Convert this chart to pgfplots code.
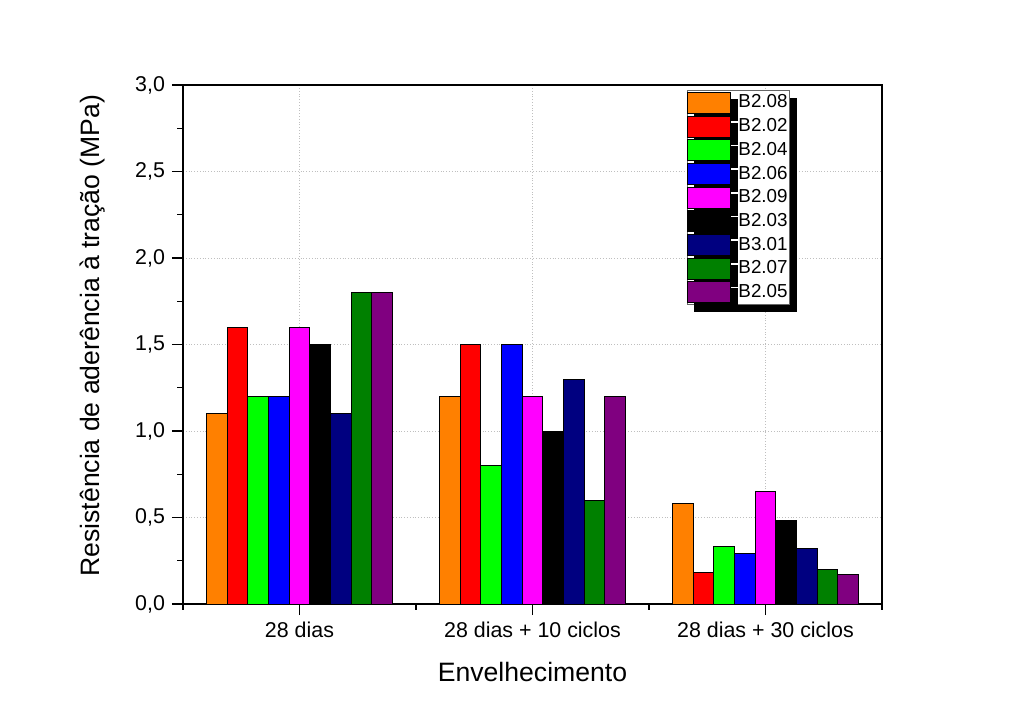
\documentclass[border=0pt]{standalone}
\usepackage{pgfplots}
\usepackage{pgfplotstable}
\pgfplotsset{compat=1.18}
\usepackage{fontspec}
\setmainfont{Liberation Sans}
\usetikzlibrary{shadows}
\definecolor{corange}{RGB}{255,128,0}
\definecolor{cred}{RGB}{255,0,0}
\definecolor{cgreen}{RGB}{0,255,0}
\definecolor{cblue}{RGB}{0,0,255}
\definecolor{cmagenta}{RGB}{255,0,255}
\definecolor{cblack}{RGB}{0,0,0}
\definecolor{cnavy}{RGB}{0,0,128}
\definecolor{cdkgreen}{RGB}{0,128,0}
\definecolor{cpurple}{RGB}{128,0,128}
\pgfplotstableread{
x  a    b    c    d    e    f    g    h    i
0  1.10 1.60 1.20 1.20 1.60 1.50 1.10 1.80 1.80
1  1.20 1.50 0.80 1.50 1.20 1.00 1.30 0.60 1.20
2  0.58 0.18 0.33 0.29 0.65 0.48 0.32 0.20 0.17
}\datatable
\begin{document}
\begin{tikzpicture}
\begin{axis}[
  at={(0,0)}, anchor=south west,
  scale only axis,
  width=349.5pt, height=259.5pt,
  xmin=-0.5, xmax=2.5,
  ymin=0, ymax=3,
  ybar=0pt,
  bar width=10.35pt,
  xtick={0,1,2},
  xticklabels={28 dias, 28 dias + 10 ciclos, 28 dias + 30 ciclos},
  minor xtick={-0.5,0.5,1.5,2.5},
  ytick={0,0.5,1,1.5,2,2.5,3},
  minor ytick={0.25,0.75,1.25,1.75,2.25,2.75},
  xtick pos=bottom, ytick pos=left,
  tick align=outside,
  major tick length=5.5pt,
  minor tick length=2.75pt,
  every tick/.style={black, line width=0.7pt},
  axis line style={line width=0.75pt},
  grid=major,
  major grid style={densely dotted, black!25, line width=0.5pt},
  yticklabel style={/pgf/number format/.cd, use comma, fixed, fixed zerofill, precision=1, assume math mode=true},
  ticklabel style={font=\fontsize{10.7}{12}\selectfont},
  xlabel={Envelhecimento},
  ylabel={Resistência de aderência à tração (MPa)},
  xlabel style={at={(axis description cs:0.5,-0.1484)}, anchor=base, font=\fontsize{13.3}{16}\selectfont},
  ylabel style={at={(axis description cs:-0.130,0.517)}, anchor=center, rotate=0, font=\fontsize{13.3}{16}\selectfont},
  legend image code/.code={\draw[#1, draw=black, line width=0.5pt] (0pt,-5.25pt) rectangle (21.5pt,5.25pt);},
  legend cell align=left,
  legend style={
    at={(0.721,0.99)}, anchor=north west,
    font=\fontsize{9.4}{11}\selectfont,
    draw=black!60, line width=0.5pt,
    fill=white,
    inner xsep=0pt, inner ysep=0.6pt,
    row sep=0.85pt,
    nodes={inner xsep=1pt, inner ysep=1.03pt},
    /tikz/every odd column/.style={column sep=2.5pt},
    drop shadow={shadow xshift=3.5pt, shadow yshift=-3.5pt, fill=black, opacity=1},
  },
]
\addplot[fill=corange, draw=black, line width=0.5pt] table[x=x,y=a]{\datatable};
\addplot[fill=cred, draw=black, line width=0.5pt] table[x=x,y=b]{\datatable};
\addplot[fill=cgreen, draw=black, line width=0.5pt] table[x=x,y=c]{\datatable};
\addplot[fill=cblue, draw=black, line width=0.5pt] table[x=x,y=d]{\datatable};
\addplot[fill=cmagenta, draw=black, line width=0.5pt] table[x=x,y=e]{\datatable};
\addplot[fill=cblack, draw=black, line width=0.5pt] table[x=x,y=f]{\datatable};
\addplot[fill=cnavy, draw=black, line width=0.5pt] table[x=x,y=g]{\datatable};
\addplot[fill=cdkgreen, draw=black, line width=0.5pt] table[x=x,y=h]{\datatable};
\addplot[fill=cpurple, draw=black, line width=0.5pt] table[x=x,y=i]{\datatable};
\legend{B2.08,B2.02,B2.04,B2.06,B2.09,B2.03,B3.01,B2.07,B2.05}
\end{axis}
\pgfresetboundingbox
\useasboundingbox (-91.5pt,-60pt) rectangle (420.5pt,302pt);
\end{tikzpicture}
\end{document}
